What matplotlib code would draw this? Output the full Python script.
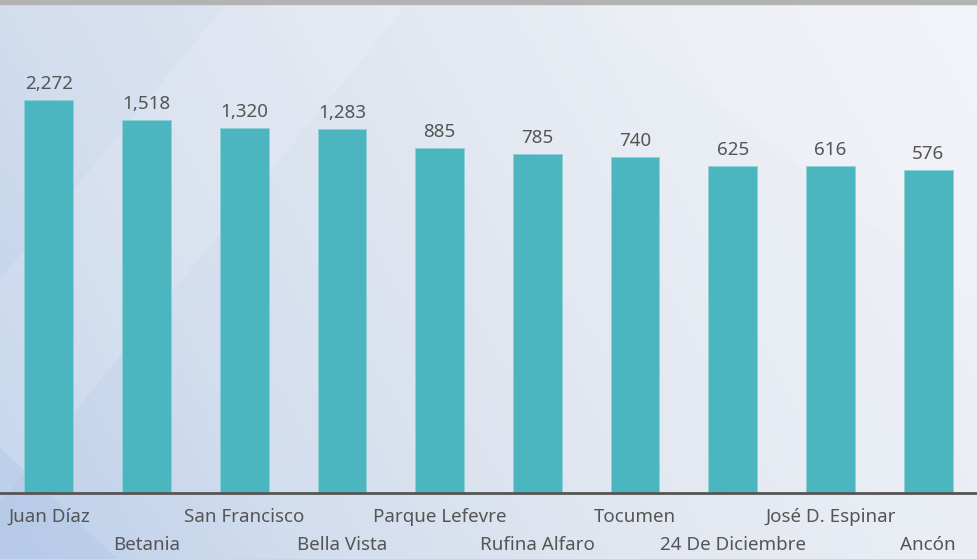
import matplotlib.pyplot as plt
import numpy as np
from matplotlib.colors import LinearSegmentedColormap
from matplotlib.patches import Polygon

plt.rcParams['font.family'] = ['Noto Sans', 'DejaVu Sans']

barrios = ["Juan Díaz", "Betania", "San Francisco", "Bella Vista", "Parque Lefevre",
           "Rufina Alfaro", "Tocumen", "24 De Diciembre", "José D. Espinar", "Ancón"]
casos = [2272, 1518, 1320, 1283, 885, 785, 740, 625, 616, 576]

bar_color = "#4BB5C0"
text_color = "#555555"

fig = plt.figure(figsize=(9.77, 5.59), dpi=100)

# background gradient
bg = fig.add_axes([0, 0, 1, 1], zorder=-10)
bg.set_axis_off()
xx, yy = np.meshgrid(np.linspace(0, 1, 400), np.linspace(0, 1, 240))
t = np.clip(0.8 * xx + 0.25 * yy, 0, 1)
cmap = LinearSegmentedColormap.from_list("bgc", ["#bccfea", "#d2ddee", "#e0e6f0", "#e9edf4", "#eff2f7"])
bg.imshow(t, cmap=cmap, origin="lower", extent=[0, 1, 0, 1], aspect="auto", vmin=0, vmax=1)
bg.add_patch(Polygon([(0.0, 0.5), (0.235, 1.0), (0.42, 1.0), (0.0, 0.1)], closed=True,
                     facecolor="white", alpha=0.14, edgecolor="none"))
bg.add_patch(Polygon([(0.0, 0.0), (0.12, 0.0), (0.0, 0.2)], closed=True,
                     facecolor="#a9c0e4", alpha=0.3, edgecolor="none"))
bg.add_patch(Polygon([(0.6, 1.0), (1.0, 1.0), (1.0, 0.45)], closed=True,
                     facecolor="white", alpha=0.12, edgecolor="none"))
bg.axhspan(0.993, 1.0, color="#b3b3b3")
bg.set_xlim(0, 1)
bg.set_ylim(0, 1)

ax = fig.add_axes([0, 0.1183, 1, 0.8405])
ax.patch.set_alpha(0)
x = np.arange(len(barrios))
bars = ax.bar(x, casos, width=0.5, color=bar_color, edgecolor="#8fd0d6", linewidth=0.6)
ax.set_yscale("log")
ax.set_ylim(1, 10300)
ax.set_xlim(-0.5, len(barrios) - 0.5)

for xi, v in zip(x, casos):
    ax.annotate(f"{v:,}", (xi, v), xytext=(0, 5), textcoords="offset points",
                ha="center", va="bottom", fontsize=13.5, color=text_color)

for side in ["top", "right", "left"]:
    ax.spines[side].set_visible(False)
ax.spines["bottom"].set_color("#555555")
ax.spines["bottom"].set_linewidth(2)
ax.set_yticks([])
ax.yaxis.set_minor_locator(plt.NullLocator())
ax.set_xticks(x)
ax.set_xticklabels([])
ax.tick_params(axis="x", length=0)

for i, name in enumerate(barrios):
    yoff = -0.051 if i % 2 == 0 else -0.112
    ax.text(i, yoff, name, transform=ax.get_xaxis_transform(), ha="center", va="center",
            fontsize=13.5, color=text_color)

fig.savefig("out.png", dpi=100)
